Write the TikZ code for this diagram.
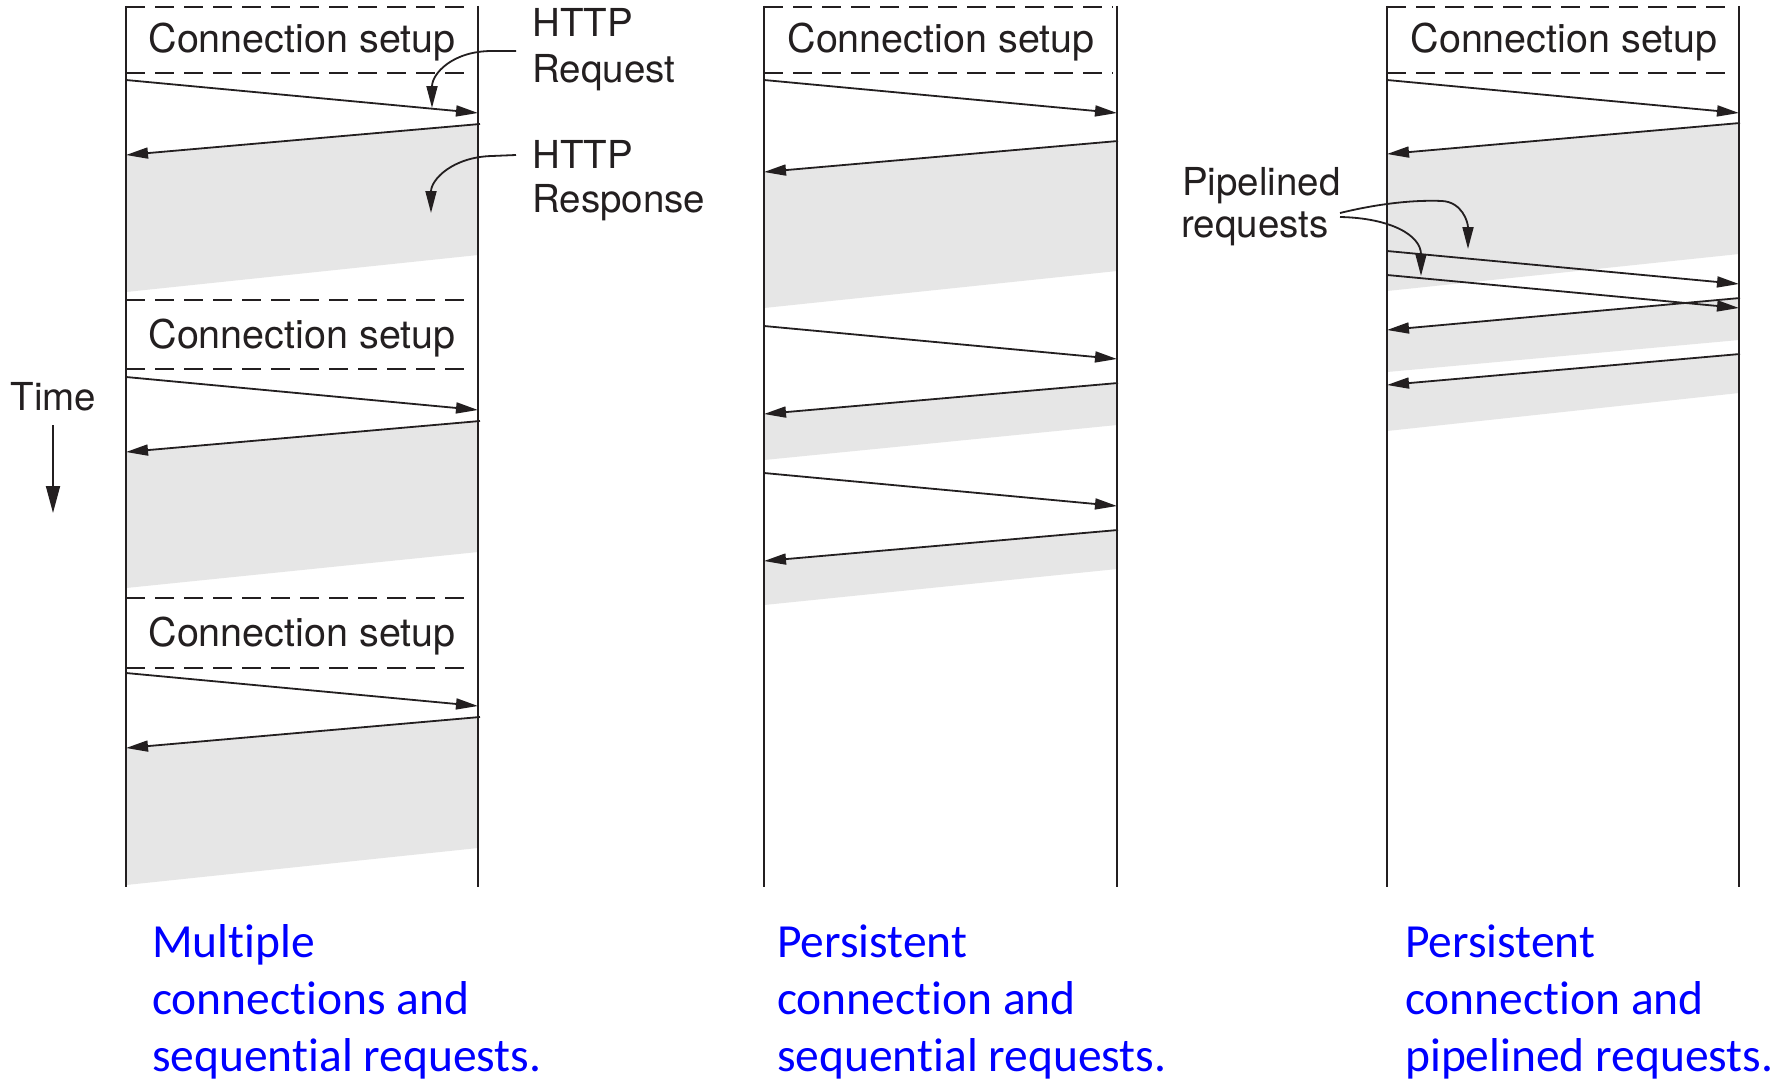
\documentclass[tikz,border=0pt]{standalone}
\usepackage{fontspec}
\setmainfont{TeX Gyre Heros}
\newfontfamily\capfont[Ligatures={NoCommon}]{Carlito}
\usetikzlibrary{arrows.meta}
\definecolor{ink}{HTML}{231F20}
\definecolor{band}{HTML}{E6E6E6}
\definecolor{capblue}{RGB}{0,0,255}
\begin{document}
\begin{tikzpicture}[x=1pt,y=-1pt,
  life/.style={draw=ink, line width=1.7pt},
  msg/.style={draw=ink, line width=1.8pt, -{Triangle[length=22pt,width=11pt]}},
  sepline/.style={draw=ink, line width=1.7pt, dash pattern=on 19pt off 10pt},
  gband/.style={fill=band, draw=none},
  setup/.style={font=\fontsize{39.5}{45}\selectfont, text=ink, inner sep=0pt, anchor=base},
  lbl/.style={font=\fontsize{38.5}{45}\selectfont, text=ink, inner sep=0pt, anchor=base west},
  capt/.style={font=\capfont\fontsize{47.5}{57}\selectfont, text=capblue, inner sep=0pt, anchor=base west},
  callout/.style={draw=ink, line width=1.8pt, -{Triangle[length=22pt,width=11pt]}},
]
\fill[white] (0,0) rectangle (1791,1081);
\useasboundingbox (0,0) rectangle (1791,1081);

% ---------- lifelines
\coordinate (L1t) at (126,6);  \coordinate (L1b) at (126,887);
\coordinate (R1t) at (478,6);  \coordinate (R1b) at (478,887);
\coordinate (L2t) at (764,6);  \coordinate (L2b) at (764,887);
\coordinate (R2t) at (1117,6); \coordinate (R2b) at (1117,887);
\coordinate (L3t) at (1387,6); \coordinate (L3b) at (1387,887);
\coordinate (R3t) at (1739,6); \coordinate (R3b) at (1739,887);

% ---------- message end points
% column 1
\coordinate (p1q1s) at (126,80);  \coordinate (p1q1e) at (478,113);
\coordinate (p1r1s) at (480,124); \coordinate (p1r1e) at (126,155);
\coordinate (p1q2s) at (126,377); \coordinate (p1q2e) at (478,410);
\coordinate (p1r2s) at (480,421); \coordinate (p1r2e) at (126,452);
\coordinate (p1q3s) at (126,673); \coordinate (p1q3e) at (478,706);
\coordinate (p1r3s) at (480,717); \coordinate (p1r3e) at (126,748);
% column 2
\coordinate (p2q1s) at (764,80);   \coordinate (p2q1e) at (1117,113);
\coordinate (p2r1s) at (1118,141); \coordinate (p2r1e) at (764,172);
\coordinate (p2q2s) at (764,326);  \coordinate (p2q2e) at (1117,359);
\coordinate (p2r2s) at (1118,383); \coordinate (p2r2e) at (764,414);
\coordinate (p2q3s) at (764,473);  \coordinate (p2q3e) at (1117,506);
\coordinate (p2r3s) at (1118,530); \coordinate (p2r3e) at (764,561);
% column 3
\coordinate (p3q1s) at (1387,80);  \coordinate (p3q1e) at (1739,113);
\coordinate (p3r1s) at (1740,123); \coordinate (p3r1e) at (1387,154);
\coordinate (p3qas) at (1387,251); \coordinate (p3qae) at (1739,284);
\coordinate (p3qbs) at (1387,275); \coordinate (p3qbe) at (1739,308);
\coordinate (p3r2s) at (1740,298); \coordinate (p3r2e) at (1387,330);
\coordinate (p3r3s) at (1740,354); \coordinate (p3r3e) at (1387,385);

% ---------- grey response bands
\fill[gband] (126,155) -- (478,124) -- (478,255) -- (126,292) -- cycle;
\fill[gband] (126,452) -- (478,421) -- (478,552) -- (126,588) -- cycle;
\fill[gband] (126,748) -- (478,717) -- (478,848) -- (126,885) -- cycle;

\fill[gband] (764,172) -- (1117,141) -- (1117,271) -- (764,308) -- cycle;
\fill[gband] (764,414) -- (1117,383) -- (1117,425) -- (764,460) -- cycle;
\fill[gband] (764,561) -- (1117,530) -- (1117,569) -- (764,605) -- cycle;

\fill[gband] (1387,154) -- (1739,123) -- (1739,254) -- (1387,291) -- cycle;
\fill[gband] (1387,330) -- (1739,298) -- (1739,340) -- (1387,372) -- cycle;
\fill[gband] (1387,385) -- (1739,354) -- (1739,393) -- (1387,431) -- cycle;

% ---------- lifelines
\draw[life] (L1t) -- (L1b);
\draw[life] (R1t) -- (R1b);
\draw[life] (L2t) -- (L2b);
\draw[life] (R2t) -- (R2b);
\draw[life] (L3t) -- (L3b);
\draw[life] (R3t) -- (R3b);

% ---------- connection setup separators
\draw[sepline] (126,7) -- (474,7);
\draw[sepline] (126,73) -- (474,73);
\draw[sepline] (126,300) -- (474,300);
\draw[sepline] (126,369) -- (474,369);
\draw[sepline] (126,598) -- (474,598);
\draw[sepline] (126,668) -- (474,668);
\draw[sepline] (764,7) -- (1113,7);
\draw[sepline] (764,73) -- (1113,73);
\draw[sepline] (1387,7) -- (1735,7);
\draw[sepline] (1387,73) -- (1735,73);

\node[setup] (cs1a) at (302,53) {Connection setup};
\node[setup] (cs1b) at (302,348) {Connection setup};
\node[setup] (cs1c) at (302,646) {Connection setup};
\node[setup] (cs2) at (941,53) {Connection setup};
\node[setup] (cs3) at (1564,53) {Connection setup};

% ---------- messages
\draw[msg] (p1q1s) -- (p1q1e);
\draw[msg] (p1r1s) -- (p1r1e);
\draw[msg] (p1q2s) -- (p1q2e);
\draw[msg] (p1r2s) -- (p1r2e);
\draw[msg] (p1q3s) -- (p1q3e);
\draw[msg] (p1r3s) -- (p1r3e);

\draw[msg] (p2q1s) -- (p2q1e);
\draw[msg] (p2r1s) -- (p2r1e);
\draw[msg] (p2q2s) -- (p2q2e);
\draw[msg] (p2r2s) -- (p2r2e);
\draw[msg] (p2q3s) -- (p2q3e);
\draw[msg] (p2r3s) -- (p2r3e);

\draw[msg] (p3q1s) -- (p3q1e);
\draw[msg] (p3r1s) -- (p3r1e);
\draw[msg] (p3qas) -- (p3qae);
\draw[msg] (p3qbs) -- (p3qbe);
\draw[msg] (p3r2s) -- (p3r2e);
\draw[msg] (p3r3s) -- (p3r3e);

% ---------- HTTP labels and callouts
\node[lbl] (hreq1) at (532,37) {HTTP};
\node[lbl] (hreq2) at (532,82) {Request};
\node[lbl] (hres1) at (532,168) {HTTP};
\node[lbl] (hres2) at (532,212) {Response};
\coordinate (creqS) at (516,51);  \coordinate (creqT) at (432,108);
\coordinate (cresS) at (516,155); \coordinate (cresT) at (431,213);
\draw[callout] (creqS) -- (492,51) .. controls (452,51) and (432,74) .. (creqT);
\draw[callout] (cresS) -- (492,156) .. controls (452,157) and (431,180) .. (cresT);

% ---------- pipelined labels and callouts
\node[lbl] (pip1) at (1182,195) {Pipelined};
\node[lbl] (pip2) at (1181,237) {requests};
\coordinate (cpA) at (1340,213); \coordinate (cpAT) at (1468,249);
\coordinate (cpB) at (1340,217); \coordinate (cpBT) at (1421,276);
\draw[callout] (cpA) .. controls (1385,202) and (1420,200) .. (1442,201)
   .. controls (1462,202) and (1468,222) .. (cpAT);
\draw[callout] (cpB) .. controls (1390,218) and (1421,235) .. (cpBT);

% ---------- time axis
\node[lbl, anchor=base] (time) at (53.5,410) {Time};
\coordinate (tS) at (53,425); \coordinate (tE) at (53,513);
\draw[draw=ink, line width=1.8pt, -{Triangle[length=27pt,width=14pt]}] (tS) -- (tE);

% ---------- captions
\node[capt] (c1a) at (152,957)  {Multiple};
\node[capt] (c1b) at (152,1014) {connections and};
\node[capt] (c1c) at (152,1071) {sequential requests.};
\node[capt] (c2a) at (777,957)  {Persistent};
\node[capt] (c2b) at (777,1014) {connection and};
\node[capt] (c2c) at (777,1071) {sequential requests.};
\node[capt] (c3a) at (1405,957)  {Persistent};
\node[capt] (c3b) at (1405,1014) {connection and};
\node[capt] (c3c) at (1405,1071) {pipelined requests.};
\end{tikzpicture}
\end{document}
